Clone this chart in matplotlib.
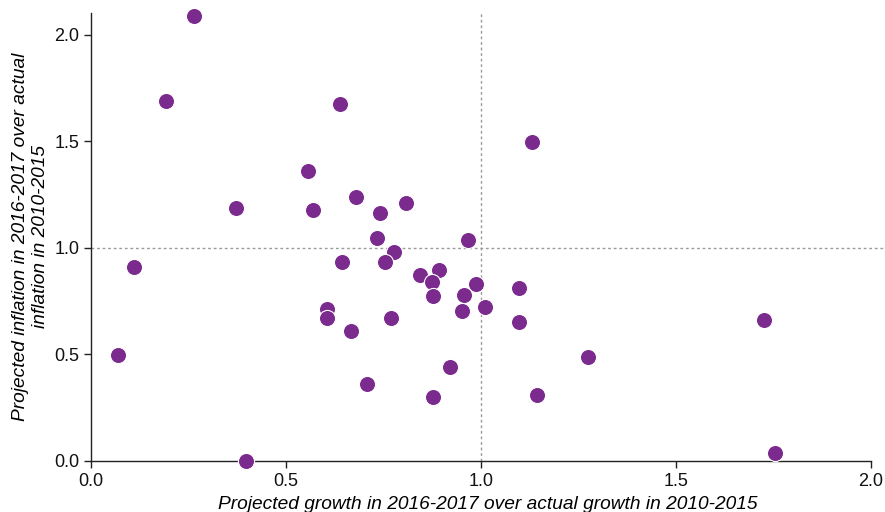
import matplotlib
matplotlib.use('Agg')
import matplotlib.pyplot as plt

# projected vs actual ratios
growth_ratio = [
    0.264, 0.192, 0.638, 1.130, 0.556, 0.371, 0.569, 0.679, 0.808, 0.741,
    0.733, 0.966, 0.776, 0.754, 0.643, 0.110, 0.843, 0.891, 0.874, 0.878,
    0.987, 0.956, 1.097, 1.009, 0.952, 1.097, 0.605, 0.605, 0.769, 0.666,
    0.707, 0.920, 0.878, 1.144, 1.274, 1.725, 1.754, 0.397, 0.069,
]
inflation_ratio = [
    2.088, 1.689, 1.675, 1.498, 1.362, 1.186, 1.177, 1.238, 1.210, 1.163,
    1.046, 1.035, 0.981, 0.933, 0.934, 0.909, 0.873, 0.895, 0.840, 0.773,
    0.828, 0.779, 0.812, 0.720, 0.701, 0.649, 0.711, 0.670, 0.671, 0.608,
    0.359, 0.440, 0.298, 0.307, 0.485, 0.661, 0.035, 0.000, 0.497,
]
ticks = [0.0, 0.5, 1.0, 1.5, 2.0]

plt.rcParams['font.family'] = ['Liberation Sans', 'DejaVu Sans']

fig = plt.figure(figsize=(8.85, 5.12), dpi=100)
ax = fig.add_axes([91.2 / 885, 1 - 460.7 / 512, (885 - 91.2) / 885, (460.7 - 13) / 512])

ax.axvline(1.0, color='#9a9a9a', linestyle=(0, (2, 2)), linewidth=1.0, zorder=1)
ax.axhline(1.0, color='#9a9a9a', linestyle=(0, (2, 2)), linewidth=1.0, zorder=1)

ax.scatter(growth_ratio, inflation_ratio, s=135, color='#7b2a8e',
           edgecolors='white', linewidths=0.8, zorder=3, clip_on=False)

ax.set_xlim(0, (885 - 91.2) / 389.8)
ax.set_ylim(0, (460.7 - 13) / 213)
ax.set_xticks(ticks)
ax.set_yticks(ticks)
ax.set_xticklabels([f'{t:.1f}' for t in ticks])
ax.set_yticklabels([f'{t:.1f}' for t in ticks])

for side in ('top', 'right'):
    ax.spines[side].set_visible(False)
ax.spines['bottom'].set_bounds(0, 2.0)
for side in ('left', 'bottom'):
    ax.spines[side].set_color('#222222')
    ax.spines[side].set_linewidth(1.0)
ax.tick_params(direction='out', length=5, width=1, color='#222222',
               labelsize=13, labelcolor='#111111')

ax.set_xlabel('Projected growth in 2016-2017 over actual growth in 2010-2015',
              fontsize=13.8, style='italic', labelpad=5)
ax.set_ylabel('Projected inflation in 2016-2017 over actual\ninflation in 2010-2015',
              fontsize=13.8, style='italic', labelpad=4)

fig.savefig('out.png', dpi=100)
